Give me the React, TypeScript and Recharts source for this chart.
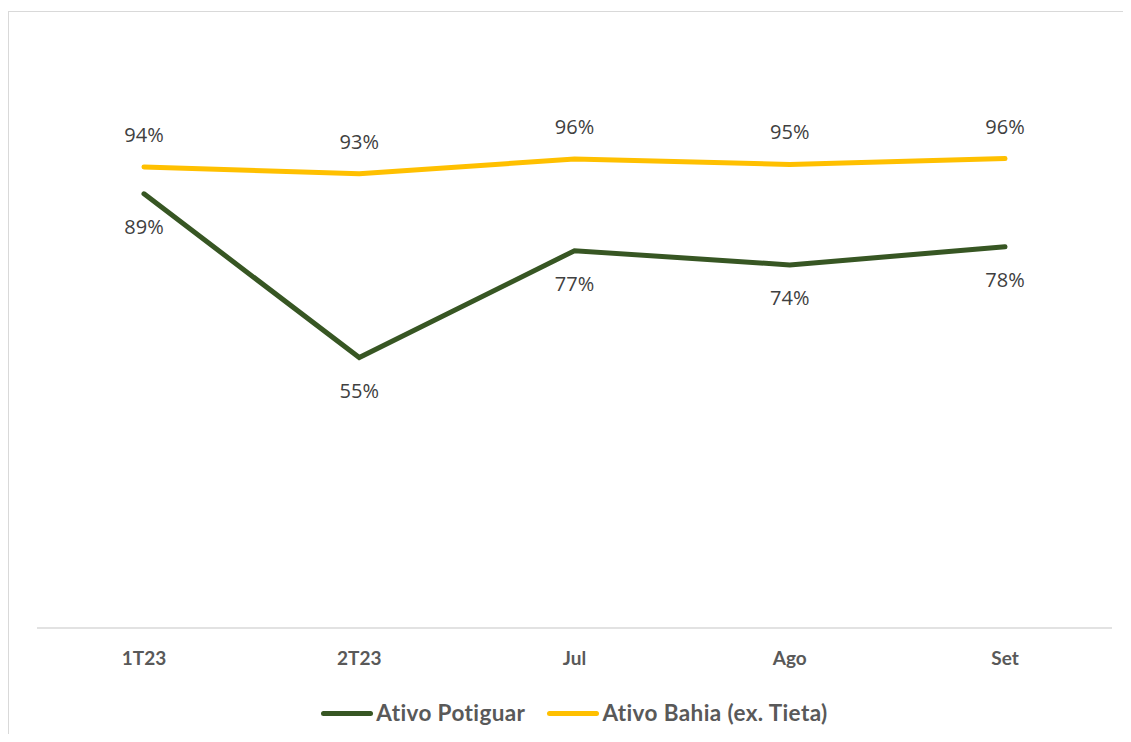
import React from 'react';
import { LineChart, Line, XAxis, YAxis, Legend, LabelList } from 'recharts';

const periods = ['1T23', '2T23', 'Jul', 'Ago', 'Set'];
const potiguar = [88.6, 55.2, 77.0, 74.1, 77.8];
const bahia = [94.1, 92.7, 95.7, 94.6, 95.8];

const seriesInfo = [
    { key: 'potiguar', name: 'Ativo Potiguar', color: '#375623' },
    { key: 'bahia', name: 'Ativo Bahia (ex. Tieta)', color: '#FFC000' },
];

const data = periods.map((p, i) => ({ name: p, potiguar: potiguar[i], bahia: bahia[i] }));

const pct = (v: any) => `${Math.round(Number(v))}%`;

const renderLegend = () => (
    <div style={{ display: 'flex', justifyContent: 'center', gap: 22, fontFamily: 'Lato', fontWeight: 700, fontSize: 22.5, letterSpacing: 0.4, color: '#595959', lineHeight: '26px' }}>
        {seriesInfo.map((s) => (
            <div key={s.key} style={{ display: 'flex', alignItems: 'center' }}>
                <span style={{ display: 'inline-block', width: 52, height: 5, borderRadius: 3, background: s.color, marginRight: 3 }} />
                <span>{s.name}</span>
            </div>
        ))}
    </div>
);

export default function App() {
    // keep the page within 742px so no scrollbar shows up
    return (
        <div style={{ marginTop: 3, borderTop: '1px solid #d9d9d9', borderLeft: '1px solid #d9d9d9', width: 1122, height: 722, background: '#fff' }}>
            <LineChart width={1122} height={722} data={data} accessibilityLayer={false} style={{ outline: 'none' }}
                margin={{ top: 126, right: 19, left: 28, bottom: 0 }}>
                <XAxis
                    dataKey="name"
                    padding={{ left: 107, right: 107 }}
                    axisLine={{ stroke: '#d9d9d9', strokeWidth: 1.5 }}
                    tickLine={false}
                    height={50}
                    tickMargin={18}
                    tick={{ fill: '#595959', fontFamily: 'Lato', fontWeight: 700, fontSize: 19 }}
                />
                <YAxis hide domain={[0, 100]} />
                <Legend verticalAlign="bottom" height={34} content={renderLegend} wrapperStyle={{ paddingTop: 22 }} />
                <Line dataKey="potiguar" name="Ativo Potiguar" stroke="#375623" strokeWidth={5} dot={false} strokeLinecap="round" isAnimationActive={false}>
                    <LabelList dataKey="potiguar" position="bottom" offset={26} formatter={pct} fill="#404040" fontFamily="Open Sans" fontSize={20} />
                </Line>
                <Line dataKey="bahia" name="Ativo Bahia (ex. Tieta)" stroke="#FFC000" strokeWidth={5} dot={false} strokeLinecap="round" isAnimationActive={false}>
                    <LabelList dataKey="bahia" position="top" offset={25} formatter={pct} fill="#404040" fontFamily="Open Sans" fontSize={20} />
                </Line>
            </LineChart>
        </div>
    );
}
